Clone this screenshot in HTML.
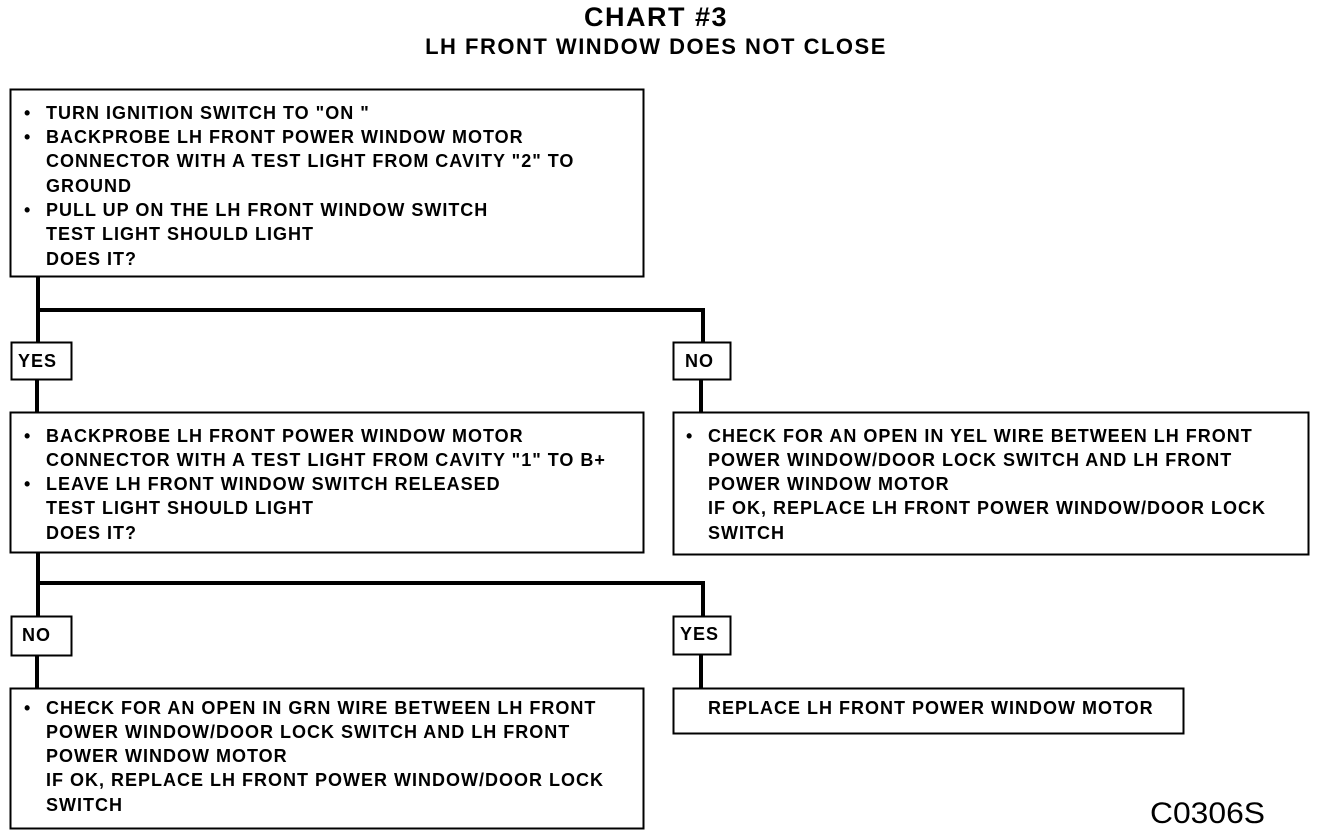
<!DOCTYPE html>
<html><head><meta charset="utf-8"><style>
html,body{margin:0;padding:0;background:#fff;}
svg{display:block;}
text{font-family:"Liberation Sans",Arial,sans-serif;font-weight:bold;fill:#000;}
.t{font-size:18px;letter-spacing:1px;}
</style></head><body>
<svg width="1328" height="836" viewBox="0 0 1328 836">
<text x="656" y="26" font-size="27" letter-spacing="1.5" text-anchor="middle">CHART #3</text>
<text x="656" y="54" font-size="22" letter-spacing="1.5" text-anchor="middle">LH FRONT WINDOW DOES NOT CLOSE</text>
<g fill="none" stroke="#000">
<rect x="10.5" y="89.5" width="633" height="187" stroke-width="2"/>
<rect x="10.5" y="412.5" width="633" height="140" stroke-width="2"/>
<rect x="673.5" y="412.5" width="635" height="142" stroke-width="2"/>
<rect x="10.5" y="688.5" width="633" height="140" stroke-width="2"/>
<rect x="673.5" y="688.5" width="510" height="45" stroke-width="2"/>
<rect x="11.5" y="342.5" width="60" height="37" stroke-width="2"/>
<rect x="673.5" y="342.5" width="57" height="37" stroke-width="2"/>
<rect x="11.5" y="616.5" width="60" height="39" stroke-width="2"/>
<rect x="673.5" y="616.5" width="57" height="38" stroke-width="2"/>
<path d="M38 276V342M36 310H703V342M37 379V412M701 379V412" stroke-width="4"/>
<path d="M38 552V616M36 583H703V616M37 655V688M701 654V688" stroke-width="4"/>
</g>
<g class="t">
<text x="24" y="119">•</text><text x="46" y="119">TURN IGNITION SWITCH TO "ON "</text>
<text x="24" y="143">•</text><text x="46" y="143">BACKPROBE LH FRONT POWER WINDOW MOTOR</text>
<text x="46" y="167">CONNECTOR WITH A TEST LIGHT FROM CAVITY "2" TO</text>
<text x="46" y="192">GROUND</text>
<text x="24" y="216">•</text><text x="46" y="216">PULL UP ON THE LH FRONT WINDOW SWITCH</text>
<text x="46" y="240">TEST LIGHT SHOULD LIGHT</text>
<text x="46" y="265">DOES IT?</text>

<text x="18" y="367">YES</text>
<text x="685" y="367">NO</text>

<text x="24" y="442">•</text><text x="46" y="442">BACKPROBE LH FRONT POWER WINDOW MOTOR</text>
<text x="46" y="466">CONNECTOR WITH A TEST LIGHT FROM CAVITY "1" TO B+</text>
<text x="24" y="490">•</text><text x="46" y="490">LEAVE LH FRONT WINDOW SWITCH RELEASED</text>
<text x="46" y="514">TEST LIGHT SHOULD LIGHT</text>
<text x="46" y="539">DOES IT?</text>

<text x="686" y="442">•</text><text x="708" y="442">CHECK FOR AN OPEN IN YEL WIRE BETWEEN LH FRONT</text>
<text x="708" y="466">POWER WINDOW/DOOR LOCK SWITCH AND LH FRONT</text>
<text x="708" y="490">POWER WINDOW MOTOR</text>
<text x="708" y="514">IF OK, REPLACE LH FRONT POWER WINDOW/DOOR LOCK</text>
<text x="708" y="539">SWITCH</text>

<text x="22" y="641">NO</text>
<text x="680" y="640">YES</text>

<text x="24" y="714">•</text><text x="46" y="714">CHECK FOR AN OPEN IN GRN WIRE BETWEEN LH FRONT</text>
<text x="46" y="738">POWER WINDOW/DOOR LOCK SWITCH AND LH FRONT</text>
<text x="46" y="762">POWER WINDOW MOTOR</text>
<text x="46" y="786">IF OK, REPLACE LH FRONT POWER WINDOW/DOOR LOCK</text>
<text x="46" y="811">SWITCH</text>

<text x="708" y="714">REPLACE LH FRONT POWER WINDOW MOTOR</text>
</g>
<text x="1150" y="823" font-size="30" style="font-weight:normal" textLength="115" lengthAdjust="spacingAndGlyphs">C0306S</text>
</svg>
</body></html>
